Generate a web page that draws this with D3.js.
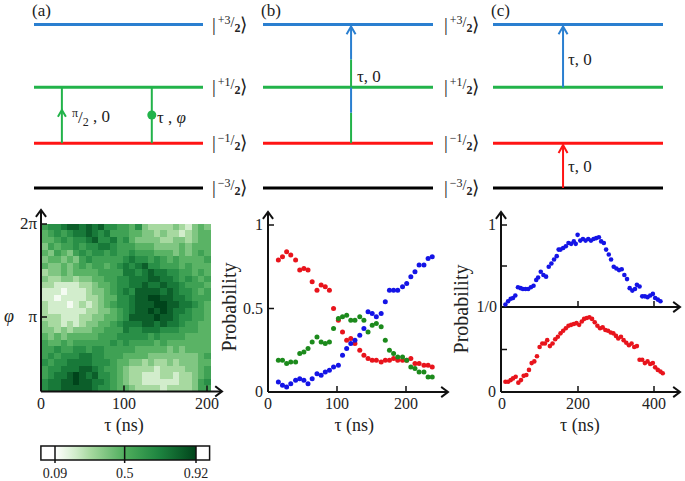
<!DOCTYPE html>
<html><head><meta charset="utf-8">
<script src="https://cdn.jsdelivr.net/npm/d3@7"></script>
<style>
body{margin:0;background:#fff}
</style>
</head><body><svg id="c" width="685" height="481"></svg>
<script>
// ---------------- DATA ----------------
const levelNames = ["+3", "+1", "\u22121", "\u22123"];
const levelEnergy = [164, 101, 45, 0];
const levelColors = ["#2a7fd0", "#22b34a", "#ff1414", "#000000"];

const bTau = [15,21,27,33,40,46,52,58,64,71,77,83,89,95,102,108,114,120,126,133,139,145,151,157,164,170,176,182,188,195,201,207,213,219,226,232,238];
const bRed = [0.79,0.81,0.84,0.82,0.79,0.73,0.74,0.73,0.66,0.61,0.64,0.63,0.61,0.50,0.43,0.36,0.31,0.32,0.29,0.25,0.22,0.20,0.19,0.19,0.18,0.19,0.19,0.20,0.19,0.19,0.19,0.20,0.17,0.17,0.16,0.16,0.15];
const bGreen = [0.19,0.19,0.17,0.18,0.18,0.23,0.24,0.26,0.30,0.33,0.30,0.29,0.30,0.38,0.44,0.45,0.46,0.43,0.43,0.45,0.43,0.36,0.40,0.41,0.39,0.31,0.25,0.23,0.21,0.21,0.19,0.15,0.14,0.12,0.12,0.09,0.09];
const bBlue = [0.06,0.04,0.03,0.05,0.07,0.08,0.07,0.05,0.08,0.11,0.10,0.12,0.13,0.15,0.16,0.22,0.26,0.29,0.31,0.34,0.38,0.48,0.47,0.45,0.47,0.54,0.61,0.61,0.61,0.63,0.65,0.69,0.72,0.76,0.76,0.80,0.81];

const cBlueTau = [9,16,23,29,35,42,49,55,62,69,76,83,90,95,102,109,116,123,130,137,144,149,154,161,168,175,182,189,194,199,206,213,220,227,234,241,248,255,261,268,274,281,287,294,301,308,315,322,329,336,343,350,355,362,369,376,383,390,397,403,410,417];
const cBlue = [0.03,0.07,0.10,0.11,0.14,0.24,0.23,0.22,0.22,0.22,0.24,0.26,0.33,0.36,0.43,0.39,0.37,0.49,0.53,0.58,0.62,0.70,0.70,0.72,0.74,0.78,0.77,0.80,0.77,0.88,0.81,0.83,0.81,0.83,0.81,0.83,0.84,0.85,0.80,0.78,0.70,0.64,0.58,0.49,0.47,0.45,0.46,0.39,0.34,0.23,0.20,0.22,0.27,0.25,0.13,0.13,0.12,0.14,0.16,0.11,0.09,0.07];
const cRedTau = [9,16,23,29,36,43,50,57,64,71,78,85,92,99,106,113,119,126,133,140,147,154,161,168,175,182,189,196,203,210,216,223,230,237,244,251,258,265,272,279,286,293,300,306,313,320,327,334,341,348,355,362,369,376,383,390,397,403,410,417,423];
const cRed = [0.12,0.12,0.14,0.16,0.18,0.11,0.14,0.19,0.20,0.26,0.34,0.36,0.42,0.53,0.57,0.57,0.61,0.54,0.57,0.62,0.65,0.69,0.72,0.75,0.78,0.79,0.80,0.81,0.79,0.83,0.86,0.87,0.88,0.86,0.82,0.78,0.75,0.76,0.73,0.72,0.70,0.69,0.66,0.63,0.65,0.61,0.58,0.55,0.57,0.53,0.54,0.38,0.38,0.34,0.36,0.33,0.34,0.29,0.26,0.24,0.22];

// heatmap: rows top (phi = 2pi) to bottom, digit level 0..9 between heatLevels
const heatRows = [
"566788787866554632222321343",
"456567787675554433232212344",
"445656678667564333322332344",
"354556566776555444333343444",
"435435656656556555444343454",
"344343565555567665654544445",
"433434545545676786655545444",
"233434444555577678776655454",
"322332334455667778877656545",
"221111223445667787787765554",
"111011123345676888878766545",
"110111122344667889988776555",
"211101212345667888998877654",
"211111122334567889898776554",
"222111223344568888988766554",
"322121233445677788787765544",
"332323334455576677766655544",
"434344444555666665655554444",
"544545555556565555454444444",
"556556656655555444443434444",
"565666776655544443333333345",
"656677776665443323223233344",
"566777887655432222122223345",
"567789878665432211122122345",
"677889887765432211111122356",
"677888887665443222212222355"
];
const heatLevels = [0.12, 0.92];
const phiTicks = [{v:1, t:"\u03c0"}, {v:2, t:"2\u03c0"}];
const heatTauTicks = [0, 100, 200];
const colorbarTicks = [0.09, 0.5, 0.92];
const bYTicks = [0, 0.5, 1];
const bXTicks = [0, 100, 200];
const cXTicks = [0, 200, 400];

// ---------------- DRAW ----------------
const FONT = '"Liberation Serif", "Times New Roman", serif';
const svg = d3.select("#c").style("font-family", FONT);
svg.append("rect").attr("width", 685).attr("height", 481).attr("fill", "#fff");

function txt(x, y, s, size, anchor, extra) {
  const t = svg.append("text").attr("x", x).attr("y", y).text(s)
    .style("font-family", FONT).attr("font-size", size).attr("fill", "#222")
    .attr("text-anchor", anchor || "start");
  if (extra) extra(t);
  return t;
}
function chevron(x, y, dir, color, w, h, sw) {
  let d;
  if (dir === "up") d = `M${x-w},${y+h}L${x},${y}L${x+w},${y+h}`;
  else d = `M${x-h},${y-w}L${x},${y}L${x-h},${y+w}`;
  svg.append("path").attr("d", d).attr("fill", "none").attr("stroke", color)
    .attr("stroke-width", sw).attr("stroke-linecap", "square");
}
function line(x1, y1, x2, y2, color, sw) {
  svg.append("line").attr("x1", x1).attr("y1", y1).attr("x2", x2).attr("y2", y2)
    .attr("stroke", color).attr("stroke-width", sw);
}

// ---- level diagrams ----
const yLevel = d3.scaleLinear().domain([0, 164]).range([188, 24.5]);
const panels = [{name:"(a)", x0:34, x1:203}, {name:"(b)", x0:263, x1:433}, {name:"(c)", x0:493, x1:663}];
panels.forEach(p => {
  levelEnergy.forEach((e, i) => line(p.x0, yLevel(e), p.x1, yLevel(e), levelColors[i], 3));
  txt(p.x0 - 2, 16, p.name, 17);
});
function ket(x, yc, num) {
  const t = svg.append("text").attr("x", x).attr("y", yc + 6).style("font-family", FONT)
    .attr("font-size", 19).attr("fill", "#222");
  t.append("tspan").text("|");
  t.append("tspan").attr("dx", 2).attr("dy", -7).attr("font-size", 12).text(num);
  t.append("tspan").attr("dy", 3).attr("font-size", 14).text("/");
  t.append("tspan").attr("dy", 5).attr("font-size", 12).attr("font-weight", "bold").text("2");
  t.append("tspan").attr("dx", 0).attr("dy", -1).attr("font-size", 19).text("\u27e9");
}
[212, 444].forEach(x => levelNames.forEach((n, i) => ket(x, yLevel(levelEnergy[i]), n)));

const lx = (p, f) => p.x0 + f * (p.x1 - p.x0);
// (a)
{
  const p = panels[0], g = levelColors[1];
  const xa = lx(p, 0.165), xb = lx(p, 0.697);
  line(xa, yLevel(45), xa, yLevel(101), g, 2);
  chevron(xa, 110, "up", g, 3.5, 6, 2);
  line(xb, yLevel(45), xb, yLevel(101), g, 2);
  svg.append("circle").attr("cx", xb).attr("cy", 115).attr("r", 4.5).attr("fill", g);
  const t = txt(72, 117, "", 12);
  t.append("tspan").text("\u03c0");
  t.append("tspan").attr("dy", 6).attr("font-size", 17).text("/");
  t.append("tspan").attr("dy", 3).attr("font-size", 12).text("2");
  t.append("tspan").attr("dy", -4).attr("font-size", 17).text(" , 0");
  const t2 = txt(157, 123, "\u03c4 , ", 17);
  t2.append("tspan").attr("font-style", "italic").text("\u03c6");
}
// (b)
{
  const p = panels[1], x = lx(p, 0.518);
  const segs = [[45, 75.5, 1], [75.5, 101, 0], [101, 129, 1], [129, 162, 0]];
  segs.forEach(s => line(x, yLevel(s[0]), x, yLevel(s[1]), levelColors[s[2] === 1 ? 1 : 0], 2));
  chevron(x, yLevel(164) + 2, "up", levelColors[0], 4, 7, 2);
  txt(357, 82, "\u03c4, 0", 17);
}
// (c)
{
  const p = panels[2], x = lx(p, 0.412);
  line(x, yLevel(101), x, yLevel(162), levelColors[0], 2);
  chevron(x, yLevel(164) + 2, "up", levelColors[0], 4, 7, 2);
  line(x, yLevel(0), x, yLevel(43), levelColors[2], 2);
  chevron(x, yLevel(45) + 2, "up", levelColors[2], 4, 7, 2);
  txt(568, 65, "\u03c4, 0", 17);
  txt(568, 172, "\u03c4, 0", 17);
}

// ---- colour scale ----
const color = d3.scaleLinear().domain([0.09, 0.2, 0.3, 0.5, 0.7, 0.92])
  .range(["#ffffff", "#d6efd0", "#a6d89f", "#4fae5d", "#1e8540", "#00441b"]);
const levelVal = d => heatLevels[0] + (heatLevels[1] - heatLevels[0]) * d / 9;

// ---- heatmap ----
const hx = d3.scaleLinear().domain([0, 200]).range([41, 207]);
const hy = d3.scaleLinear().domain([0, 2]).range([410, 224]);
const nCols = heatRows[0].length;
const colBand = d3.scaleBand().domain(d3.range(nCols)).range([hx(1), hx(204)]);
const rowBand = d3.scaleBand().domain(d3.range(heatRows.length)).range([hy(2), hy(0.2)]);
const cells = [];
heatRows.forEach((r, i) => r.split("").forEach((c, j) => cells.push({i, j, v: levelVal(+c)})));
svg.append("g").attr("shape-rendering", "crispEdges").selectAll("rect").data(cells).join("rect")
  .attr("x", d => colBand(d.j)).attr("y", d => rowBand(d.i))
  .attr("width", colBand.bandwidth() + 0.6).attr("height", rowBand.bandwidth() + 0.6)
  .attr("fill", d => color(d.v));
// axes
const hx0 = hx(0), hy0 = hy(0.2);
line(hx0, hy0, hx0, 211, "#111", 2);
chevron(hx0, 210, "up", "#111", 4.5, 6, 2);
line(hx0, hy0, 221, hy0, "#111", 2);
chevron(222, hy0, "right", "#111", 4.5, 6, 2);
phiTicks.forEach(t => {
  line(hx0, hy(t.v), hx0 + 6, hy(t.v), "#111", 1.5);
  txt(hx0 - 4, hy(t.v) + 5, t.t, 17, "end");
});
txt(4, hy(1) + 5, "\u03c6", 18, "start", t => t.attr("font-style", "italic"));
heatTauTicks.forEach(v => {
  if (v > 0) line(hx(v), hy0, hx(v), hy0 - 6, "#111", 1.5);
  txt(hx(v), 409, v, 16, "middle");
});
txt(hx(100), 431, "\u03c4 (ns)", 18, "middle");

// ---- colorbar ----
const cb = d3.scaleLinear().domain([0.09, 0.92]).range([55, 196]);
const defs = svg.append("defs");
const grad = defs.append("linearGradient").attr("id", "cbg");
d3.range(0, 1.0001, 0.05).forEach(o => grad.append("stop").attr("offset", o)
  .attr("stop-color", color(0.09 + o * 0.83)));
svg.append("rect").attr("x", cb(0.09)).attr("y", 446).attr("width", cb(0.92) - cb(0.09)).attr("height", 14)
  .attr("fill", "url(#cbg)");
svg.append("rect").attr("x", cb(0.007)).attr("y", 446).attr("width", cb(1.0) - cb(0.007)).attr("height", 14)
  .attr("fill", "none").attr("stroke", "#111").attr("stroke-width", 1.5);
colorbarTicks.forEach(v => {
  line(cb(v), 446, cb(v), 463, "#111", 1.5);
  txt(cb(v), 478, v, 14, "middle");
});

// ---- panel b plot ----
const bx = d3.scaleLinear().domain([0, 200]).range([268, 406]);
const by = d3.scaleLinear().domain([0, 1]).range([392, 225]);
line(bx(0), by(0), bx(0), 213, "#111", 2);
chevron(bx(0), 212, "up", "#111", 4.5, 6, 2);
line(bx(0), by(0), 447, by(0), "#111", 2);
chevron(448, by(0), "right", "#111", 4.5, 6, 2);
bYTicks.forEach(v => {
  if (v > 0) line(bx(0), by(v), bx(0) + 6, by(v), "#111", 1.5);
  txt(bx(0) - 5, by(v) + 5, v, 16, "end");
});
bXTicks.forEach(v => {
  if (v > 0) line(bx(v), by(0), bx(v), by(0) - 6, "#111", 1.5);
  txt(bx(v), 409, v, 16, "middle");
});
txt(bx(125), 431, "\u03c4 (ns)", 18, "middle");
txt(0, 0, "Probability", 20, "middle", t => t.attr("transform", "translate(236,307) rotate(-90)"));
const bSeries = [{d: bRed, c: "#e8141c"}, {d: bGreen, c: "#1c8a1c"}, {d: bBlue, c: "#1414e6"}];
bSeries.forEach(s => svg.append("g").selectAll("circle").data(s.d).join("circle")
  .attr("cx", (d, i) => bx(bTau[i])).attr("cy", d => by(d)).attr("r", 2.5).attr("fill", s.c));

// ---- panel c plot ----
const cx = d3.scaleLinear().domain([0, 400]).range([502, 654]);
const cyU = d3.scaleLinear().domain([0, 1]).range([307, 225]);
const cyL = d3.scaleLinear().domain([0, 1]).range([392, 307]);
line(501, cyL(0), 501, 213, "#111", 2);
chevron(501, 212, "up", "#111", 4.5, 6, 2);
[cyL(0), cyU(0)].forEach(y => {
  line(501, y, 679, y, "#111", 2);
  chevron(680, y, "right", "#111", 4.5, 6, 2);
  cXTicks.forEach(v => { if (v > 0) line(cx(v), y, cx(v), y - 6, "#111", 1.5); });
});
[cyU(1), cyU(0.5), cyL(0.5)].forEach(y => line(501, y, 507, y, "#111", 1.5));
txt(496, cyU(1) + 5, "1", 16, "end");
txt(497, cyU(0) + 5, "1/0", 16, "end");
txt(496, cyL(0) + 5, "0", 16, "end");
cXTicks.forEach(v => txt(cx(v), 409, v, 16, "middle"));
txt(cx(205), 431, "\u03c4 (ns)", 18, "middle");
txt(0, 0, "Probability", 20, "middle", t => t.attr("transform", "translate(468,309) rotate(-90)"));
svg.append("g").selectAll("circle").data(cBlue).join("circle")
  .attr("cx", (d, i) => cx(cBlueTau[i])).attr("cy", d => cyU(d)).attr("r", 2.3).attr("fill", "#1414e6");
svg.append("g").selectAll("circle").data(cRed).join("circle")
  .attr("cx", (d, i) => cx(cRedTau[i])).attr("cy", d => cyL(d)).attr("r", 2.3).attr("fill", "#e8141c");
</script></body></html>
